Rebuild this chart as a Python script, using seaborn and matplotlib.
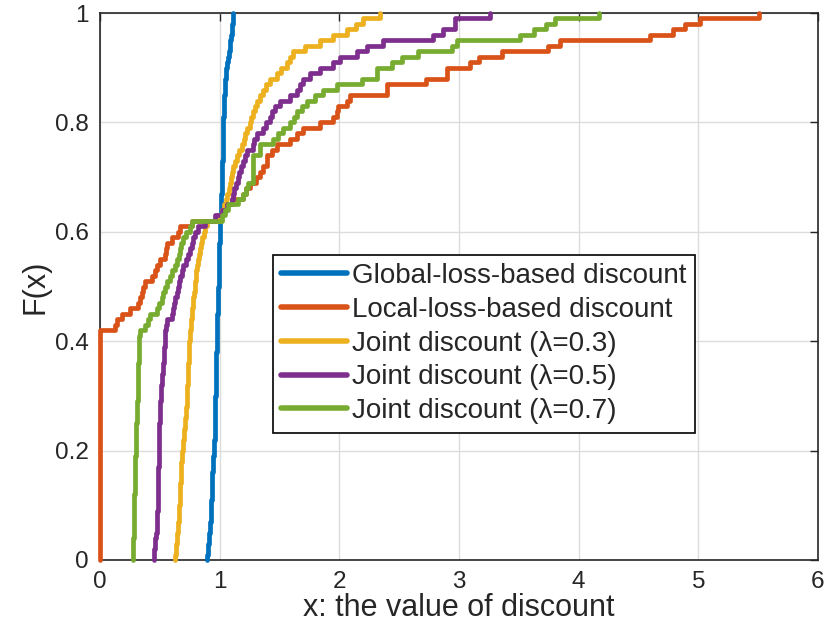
import numpy as np
import matplotlib
matplotlib.use('Agg')
import matplotlib.pyplot as plt
import seaborn as sns

# samples (100 samples per curve, sorted)
global_loss = [
    0.897, 0.899, 0.902, 0.908, 0.915, 0.920, 0.922, 0.924, 0.926, 0.928,
    0.930, 0.932, 0.934, 0.936, 0.938, 0.940, 0.942, 0.945, 0.948, 0.952,
    0.954, 0.956, 0.957, 0.958, 0.960, 0.961, 0.962, 0.963, 0.964, 0.965,
    0.966, 0.967, 0.968, 0.969, 0.970, 0.971, 0.972, 0.973, 0.974, 0.975,
    0.976, 0.977, 0.978, 0.979, 0.980, 0.982, 0.984, 0.986, 0.988, 0.990,
    0.991, 0.992, 0.993, 0.994, 0.995, 0.996, 0.997, 0.998, 0.999, 1.000,
    1.002, 1.004, 1.006, 1.008, 1.010, 1.012, 1.014, 1.016, 1.018, 1.020,
    1.021, 1.022, 1.023, 1.024, 1.025, 1.026, 1.027, 1.028, 1.029, 1.030,
    1.032, 1.034, 1.036, 1.038, 1.040, 1.042, 1.044, 1.046, 1.050, 1.055,
    1.062, 1.070, 1.078, 1.084, 1.090, 1.095, 1.100, 1.105, 1.110, 1.114,
]

local_loss = [0.0] * 42 + [
    0.125, 0.140, 0.181, 0.251, 0.320, 0.334, 0.348, 0.362,
    0.376, 0.432, 0.460, 0.473, 0.501, 0.543, 0.550, 0.557, 0.599, 0.654,
    0.668, 0.766, 0.980, 1.020, 1.058, 1.100, 1.197, 1.220, 1.253, 1.300,
    1.337, 1.360, 1.392, 1.392, 1.434, 1.476, 1.587, 1.650, 1.699, 1.838,
    1.949, 1.977, 1.990, 2.060, 2.089, 2.395, 2.395, 2.728, 2.896, 2.896,
    3.090, 3.170, 3.356, 3.745, 3.840, 4.595, 4.790, 4.887, 5.013, 5.510,
]

joint_03 = [
    0.627, 0.632, 0.637, 0.642, 0.646, 0.650, 0.653, 0.656, 0.659, 0.662,
    0.665, 0.668, 0.670, 0.672, 0.674, 0.676, 0.678, 0.681, 0.684, 0.688,
    0.692, 0.696, 0.700, 0.704, 0.708, 0.712, 0.716, 0.720, 0.724, 0.727,
    0.729, 0.731, 0.733, 0.735, 0.737, 0.739, 0.741, 0.743, 0.745, 0.747,
    0.750, 0.754, 0.758, 0.762, 0.767, 0.772, 0.776, 0.780, 0.785, 0.790,
    0.794, 0.800, 0.806, 0.813, 0.820, 0.828, 0.836, 0.845, 0.855, 0.868,
    0.880, 0.890, 1.000, 1.020, 1.035, 1.050, 1.060, 1.075, 1.085, 1.095,
    1.105, 1.115, 1.130, 1.145, 1.165, 1.185, 1.200, 1.215, 1.230, 1.250,
    1.265, 1.280, 1.295, 1.310, 1.335, 1.360, 1.390, 1.420, 1.480, 1.510,
    1.560, 1.590, 1.615, 1.710, 1.840, 1.950, 2.060, 2.140, 2.200, 2.340,
]

joint_05 = [
    0.451, 0.455, 0.459, 0.463, 0.468, 0.473, 0.475, 0.477, 0.479, 0.481,
    0.482, 0.483, 0.484, 0.485, 0.486, 0.487, 0.488, 0.489, 0.490, 0.492,
    0.493, 0.494, 0.495, 0.496, 0.497, 0.499, 0.500, 0.502, 0.504, 0.506,
    0.509, 0.512, 0.516, 0.520, 0.524, 0.528, 0.531, 0.534, 0.537, 0.540,
    0.543, 0.547, 0.552, 0.557, 0.599, 0.610, 0.621, 0.630, 0.640, 0.652,
    0.660, 0.668, 0.682, 0.696, 0.720, 0.738, 0.752, 0.766, 0.780, 0.794,
    0.821, 0.877, 0.960, 1.020, 1.058, 1.100, 1.110, 1.120, 1.135, 1.150,
    1.165, 1.180, 1.197, 1.210, 1.225, 1.281, 1.290, 1.309, 1.364, 1.390,
    1.420, 1.440, 1.462, 1.504, 1.587, 1.643, 1.670, 1.699, 1.754, 1.838,
    1.949, 2.005, 2.144, 2.228, 2.367, 2.785, 2.868, 2.966, 2.966, 3.258,
]

joint_07 = [
    0.273, 0.275, 0.277, 0.279, 0.280, 0.281, 0.282, 0.284, 0.285, 0.286,
    0.287, 0.288, 0.289, 0.290, 0.291, 0.292, 0.293, 0.295, 0.296, 0.298,
    0.299, 0.300, 0.302, 0.303, 0.305, 0.306, 0.308, 0.310, 0.312, 0.314,
    0.315, 0.317, 0.318, 0.319, 0.320, 0.321, 0.322, 0.323, 0.324, 0.326,
    0.330, 0.334, 0.376, 0.400, 0.420, 0.473, 0.490, 0.515, 0.530, 0.543,
    0.560, 0.585, 0.600, 0.627, 0.645, 0.660, 0.668, 0.680, 0.696, 0.720,
    0.752, 0.766, 1.017, 1.044, 1.072, 1.156, 1.197, 1.220, 1.239, 1.281,
    1.281, 1.281, 1.281, 1.281, 1.337, 1.337, 1.448, 1.490, 1.531, 1.587,
    1.620, 1.643, 1.690, 1.727, 1.800, 1.865, 1.977, 2.186, 2.312, 2.312,
    2.437, 2.520, 2.660, 2.940, 2.980, 3.510, 3.630, 3.730, 3.800, 4.170,
]

series = [
    ('Global-loss-based discount', global_loss, '#0072BD'),
    ('Local-loss-based discount', local_loss, '#D95319'),
    ('Joint discount (λ=0.3)', joint_03, '#EDB120'),
    ('Joint discount (λ=0.5)', joint_05, '#7E2F8E'),
    ('Joint discount (λ=0.7)', joint_07, '#77AC30'),
]

sns.set_style('white')
plt.rcParams['font.family'] = ['Liberation Sans', 'DejaVu Sans']

fig = plt.figure(figsize=(8.26, 6.31), dpi=100)
ax = fig.add_axes([100 / 826, 71 / 631, 718 / 826, 547 / 631])

for name, vals, col in series:
    sns.ecdfplot(x=vals, ax=ax, color=col, label=name, linewidth=3.4)

# drop the -inf lead-in so the curves start at their first sample
for line in ax.lines:
    x, y = line.get_data()
    x = np.asarray(x, dtype=float).copy()
    x[0] = x[1]
    line.set_data(x, y)
    line.set_clip_on(False)
    line.set_zorder(3)

ax.set_xlim(0, 6)
ax.set_ylim(0, 1)
ax.set_xticks(range(0, 7))
ax.set_yticks([0, 0.2, 0.4, 0.6, 0.8, 1])
ax.set_yticklabels(['0', '0.2', '0.4', '0.6', '0.8', '1'])
ax.grid(True, color='#dcdcdc', linewidth=1)
ax.set_axisbelow(True)
ax.tick_params(direction='in', top=True, right=True, length=6, width=1,
               colors='#262626', labelsize=17.5, pad=8)
for s in ax.spines.values():
    s.set_color('#262626')
    s.set_linewidth(1.2)

ax.set_xlabel('x: the value of discount', fontsize=22, color='#262626', labelpad=0)
ax.set_ylabel('F(x)', fontsize=22, color='#262626', labelpad=3)

leg = ax.legend(loc='upper left', bbox_to_anchor=(0.241, 0.558), fontsize=20,
                frameon=True, fancybox=False, framealpha=1, edgecolor='black',
                handlelength=2.35, labelspacing=0.28, borderpad=0.3,
                handletextpad=0.2, borderaxespad=0)
leg.get_frame().set_linewidth(1.2)
leg.set_zorder(5)
for h in leg.get_lines():
    h.set_linewidth(4)

fig.savefig('out.png', dpi=100)
